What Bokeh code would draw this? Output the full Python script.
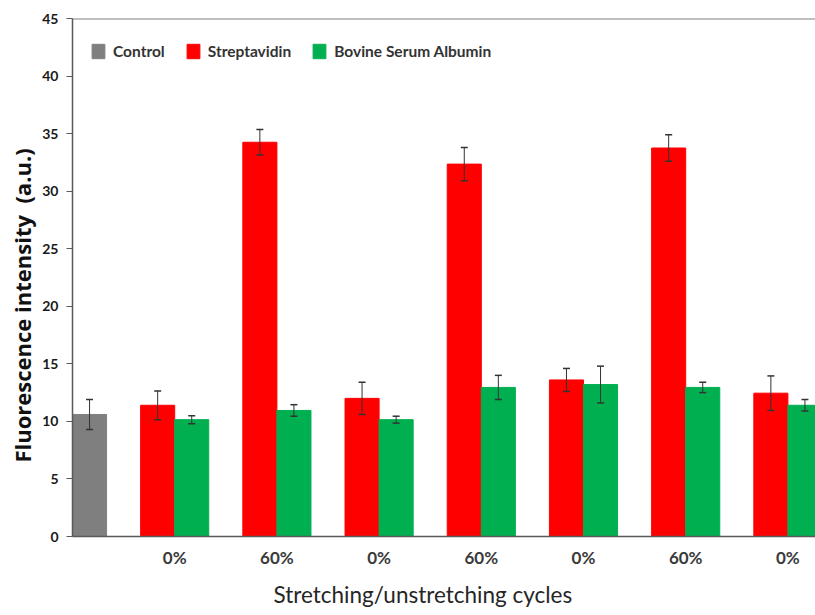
from bokeh.plotting import figure
from bokeh.models import (ColumnDataSource, Range1d, FixedTicker, Whisker, TeeHead,
                          Legend, LegendItem, Span, Title)
from bokeh.embed import file_html
from bokeh.resources import INLINE

# ---- data ----
groups = ["0%", "60%", "0%", "60%", "0%", "60%", "0%"]
control_value = [10.6]
control_error = [1.3]
strep_values = [11.4, 34.25, 12.0, 32.35, 13.6, 33.75, 12.45]
strep_errors = [1.25, 1.1, 1.4, 1.45, 1.0, 1.15, 1.5]
bsa_values = [10.15, 10.95, 10.15, 12.95, 13.2, 12.95, 11.4]
bsa_errors = [0.35, 0.5, 0.3, 1.05, 1.6, 0.45, 0.5]
y_ticks = [0, 5, 10, 15, 20, 25, 30, 35, 40, 45]

FONT = "Lato"
BAR_W = 1 / 3
group_pos = [i + 1 for i in range(len(groups))]


def make_src(xs, vals, errs):
    return ColumnDataSource(dict(
        x=xs, top=vals,
        upper=[v + e for v, e in zip(vals, errs)],
        lower=[v - e for v, e in zip(vals, errs)]))


ctrl_src = make_src([BAR_W / 2], control_value, control_error)
strep_src = make_src([g - BAR_W / 2 for g in group_pos], strep_values, strep_errors)
bsa_src = make_src([g + BAR_W / 2 for g in group_pos], bsa_values, bsa_errors)

p = figure(width=815, height=615, output_backend="svg", toolbar_location=None,
           x_range=Range1d(0, 7.27), y_range=Range1d(0, 45),
           min_border_left=72, min_border_right=0, min_border_top=18,
           min_border_bottom=79)
p.outline_line_color = None
p.xgrid.visible = False
p.ygrid.visible = False
p.background_fill_color = "white"

r_ctrl = p.vbar(x="x", top="top", width=BAR_W, source=ctrl_src,
                fill_color="#7f7f7f", line_color="#7f7f7f")
r_strep = p.vbar(x="x", top="top", width=BAR_W, source=strep_src,
                 fill_color="#ff0000", line_color="#ff0000")
r_bsa = p.vbar(x="x", top="top", width=BAR_W, source=bsa_src,
               fill_color="#00b050", line_color="#00b050")

for src in (ctrl_src, strep_src, bsa_src):
    w = Whisker(base="x", upper="upper", lower="lower", source=src, level="overlay",
                line_color="#333333", line_width=1,
                upper_head=TeeHead(size=7, line_color="#333333", line_width=1.5),
                lower_head=TeeHead(size=7, line_color="#333333", line_width=1.5))
    p.add_layout(w)

# top border line
p.add_layout(Span(location=45, dimension="width", line_color="#808080", line_width=2))

# axes
p.yaxis.ticker = FixedTicker(ticks=y_ticks)
p.yaxis.major_tick_out = 6
p.yaxis.major_tick_in = 0
p.yaxis.minor_tick_line_color = None
p.yaxis.axis_line_color = "#595959"
p.yaxis.axis_line_width = 1.5
p.yaxis.major_tick_line_color = "#595959"
p.yaxis.major_label_text_font = FONT
p.yaxis.major_label_text_font_style = "bold"
p.yaxis.major_label_text_font_size = "14px"
p.yaxis.major_label_text_color = "#1a1a1a"
p.yaxis.major_label_standoff = 8

p.add_layout(Title(text="Fluorescence intensity\u00a0 (a.u.)", align="left", offset=74,
                   text_font="Open Sans", text_font_style="bold", text_font_size="22px",
                   text_color="#111111", standoff=6), "left")

p.xaxis.ticker = FixedTicker(ticks=group_pos)
p.xaxis.major_label_overrides = {g: lab for g, lab in zip(group_pos, groups)}
p.xaxis.major_tick_line_color = None
p.xaxis.minor_tick_line_color = None
p.xaxis.major_tick_out = 0
p.xaxis.axis_line_color = "#595959"
p.xaxis.axis_line_width = 1.5
p.xaxis.major_label_text_font = FONT
p.xaxis.major_label_text_font_style = "bold"
p.xaxis.major_label_text_font_size = "17px"
p.xaxis.major_label_text_color = "#3a3a3a"
p.xaxis.major_label_standoff = 10

p.add_layout(Title(text="Stretching/unstretching cycles", align="left", offset=201,
                   text_font=FONT, text_font_style="normal", text_font_size="22.5px",
                   text_color="#262626", standoff=16), "below")

legend = Legend(items=[LegendItem(label="Control", renderers=[r_ctrl]),
                       LegendItem(label="Streptavidin", renderers=[r_strep]),
                       LegendItem(label="Bovine Serum Albumin", renderers=[r_bsa])],
                orientation="horizontal", location=(18, 476),
                padding=0, margin=0, spacing=20, label_standoff=7,
                glyph_width=16, glyph_height=18, label_height=18,
                label_text_font=FONT, label_text_font_style="bold",
                label_text_font_size="15.5px", label_text_color="#333333",
                border_line_color=None, background_fill_alpha=0)
p.add_layout(legend)

open("out.html", "w").write(file_html(p, INLINE))
